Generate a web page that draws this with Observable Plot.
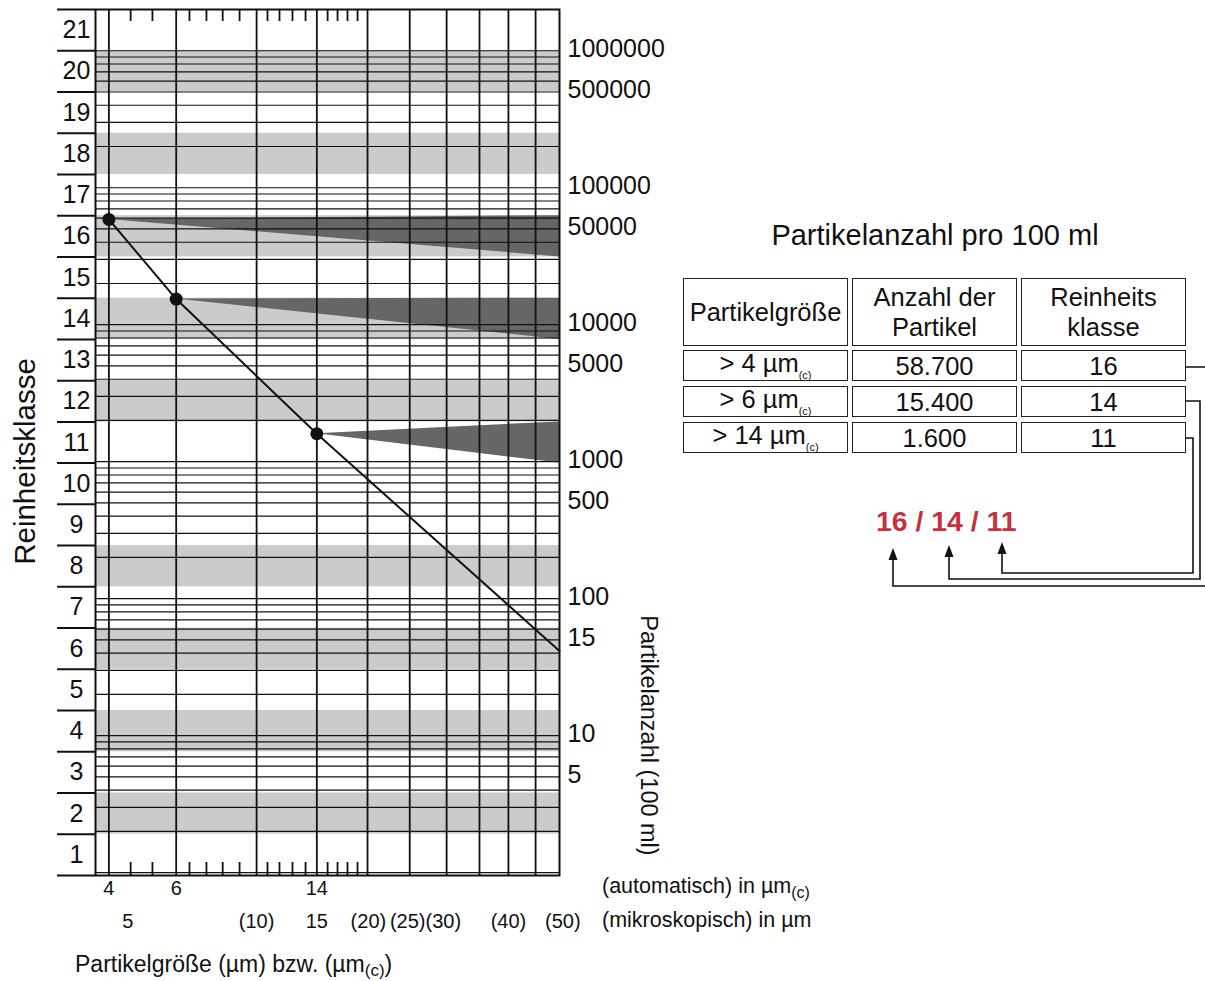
<!DOCTYPE html>
<html><head><meta charset="utf-8">
<script src="https://cdn.jsdelivr.net/npm/d3@7"></script>
<script src="https://cdn.jsdelivr.net/npm/@observablehq/plot@0.6"></script>
<style>
body{margin:0;background:#fff;}
#wrap{position:relative;width:1205px;height:981px;overflow:hidden;font-family:"Liberation Sans",Arial,sans-serif;color:#111;}
.lbl{position:absolute;white-space:nowrap;display:flex;align-items:center;line-height:1;}
.cell{position:absolute;box-sizing:border-box;border:1.6px solid #222;display:flex;flex-direction:column;align-items:center;justify-content:center;font-size:25.5px;line-height:30px;white-space:nowrap;text-align:center;}
.sub{position:relative;}
</style></head><body><div id="wrap"></div>
<script>
// ---------- data ----------
const classNumbers = [1,2,3,4,5,6,7,8,9,10,11,12,13,14,15,16,17,18,19,20,21];
// class boundaries (particles per 100 ml), lower bound of class 1 ... upper bound of class 21
const classBounds = [0.95367431640625, 1.9073486328125, 3.814697265625, 7.62939453125, 15.2587890625,
  30.517578125, 61.03515625, 122.0703125, 244.140625, 488.28125, 976.5625, 1953.125, 3906.25,
  7812.5, 15625, 31250, 62500, 125000, 250000, 500000, 1000000, 2000000];
const grayClasses = [2,4,6,8,12,14,16,18,20];
const countTicks = [1000000, 500000, 100000, 50000, 10000, 5000, 1000, 500, 100, 50, 10, 5];
const countTickLabels = ["1000000","500000","100000","50000","10000","5000","1000","500","100","15","10","5"];
const gridDecades = [1, 10, 100, 1000, 10000, 100000, 1000000];
const gridDigits = [1,2,3,4,5,6,7,8,9];

// x: particle size in µm(c), log axis
const xMin = 3.69, xMax = 60.4;
const vLines = [4, 6, 9.74, 14, 19.0, 24.5, 30.6, 37.3, 44.4, 52.3];
const minorTicks = [4.56, 5.2, 6.5, 7.2, 7.94, 8.79, 10.4, 11.18, 12.09, 13.08, 14.94, 15.86, 16.84, 17.89];
const autoTicks = [4, 6, 14];
const microLabels = ["5", "(10)", "15", "(20)", "(25)", "(30)", "(40)", "(50)"];
const microAt = [4.48, 9.74, 14, 19.1, 24.2, 30.0, 44.4, 61.6];

// measurement
const sizes = [4, 6, 14];
const sizeLabels = ["> 4 µm", "> 6 µm", "> 14 µm"];
const counts = [58700, 15400, 1600];
const classes = [16, 14, 11];
const lineEndCount = 41.5;

// ---------- derived tables ----------
const gridCounts = gridDecades.flatMap(d => gridDigits.map(k => k * d)).filter(v => v <= classBounds[21]);
const measure = sizes.map((s, i) => ({size: s, count: counts[i], cls: classes[i]}));
const curve = [...measure, {size: xMax, count: lineEndCount}];
const wedges = measure.flatMap((m, i) => [
  {id: i, x: m.size, y1: m.count, y2: m.count},
  {id: i, x: xMax, y1: classBounds[m.cls - 1], y2: classBounds[m.cls]}
]);
const fmt = d3.formatLocale({decimal: ",", thousands: ".", grouping: [3], currency: ["", "€"]}).format(",d");

const FONT = "'Liberation Sans', Arial, sans-serif";
const INK = "#111";

const chart = Plot.plot({
  width: 1205, height: 981,
  marginLeft: 95, marginRight: 646, marginTop: 9, marginBottom: 106,
  style: {fontFamily: FONT, color: INK, background: "transparent", overflow: "visible"},
  x: {type: "log", domain: [xMin, xMax], axis: null},
  y: {type: "log", domain: [classBounds[0], classBounds[21]], axis: null},
  marks: [
    Plot.rect(grayClasses, {x1: () => xMin, x2: () => xMax, y1: c => classBounds[c - 1], y2: c => classBounds[c], fill: "#cbcbcb"}),
    Plot.area(wedges, {x1: "x", y1: "y1", y2: "y2", z: "id", fill: "#666666"}),
    Plot.ruleY(gridCounts, {stroke: INK, strokeWidth: 1.2}),
    Plot.ruleX(vLines, {stroke: INK, strokeWidth: 1.8}),
    Plot.ruleX(minorTicks, {stroke: INK, strokeWidth: 1.8, insetBottom: 854}),
    Plot.ruleX(minorTicks, {stroke: INK, strokeWidth: 1.8, insetTop: 853}),
    Plot.ruleY(classBounds, {stroke: INK, strokeWidth: 2, insetLeft: -38, insetRight: 464}),
    Plot.frame({stroke: INK, strokeWidth: 2}),
    Plot.line(curve, {x: "size", y: "count", stroke: INK, strokeWidth: 2}),
    Plot.dot(measure, {x: "size", y: "count", r: 6.5, fill: INK}),
    Plot.text(classNumbers, {y: c => Math.sqrt(classBounds[c - 1] * classBounds[c]), text: c => String(c), frameAnchor: "left", textAnchor: "middle", lineAnchor: "middle", dx: -19, fontSize: 25, fill: INK}),
    Plot.text(countTicks, {y: d => d, text: (d, i) => countTickLabels[i], frameAnchor: "right", textAnchor: "start", lineAnchor: "middle", dx: 8, dy: -2, fontSize: 25, fill: INK}),
    Plot.text(autoTicks, {x: d => d, text: d => String(d), frameAnchor: "bottom", textAnchor: "middle", lineAnchor: "middle", dy: 13, fontSize: 20, fill: INK}),
    Plot.text(microLabels, {x: (d, i) => microAt[i], text: d => d, frameAnchor: "bottom", textAnchor: "middle", lineAnchor: "middle", dy: 46, fontSize: 20, fill: INK}),
    Plot.text(["Reinheitsklasse"], {frameAnchor: "left", textAnchor: "middle", lineAnchor: "middle", dx: -70, dy: 19, rotate: -90, fontSize: 29.5, fill: INK}),
    Plot.text(["Partikelanzahl (100 ml)"], {frameAnchor: "right", textAnchor: "middle", lineAnchor: "middle", dx: 89, dy: 293, rotate: 90, fontSize: 23.5, fill: INK})
  ]
});
chart.style.position = "absolute";
chart.style.left = "0px";
chart.style.top = "0px";
const wrap = document.getElementById("wrap");
wrap.appendChild(chart);

// ---------- html labels ----------
function label(html, left, cy, size, extra = "") {
  const d = document.createElement("div");
  d.className = "lbl";
  d.style.cssText = `left:${left}px;top:${cy - size}px;height:${2 * size}px;font-size:${size}px;${extra}`;
  d.innerHTML = html;
  wrap.appendChild(d);
  return d;
}
function centered(html, cx, cy, size, extra = "") {
  return label(html, cx - 250, cy, size, `width:500px;justify-content:center;${extra}`);
}
const subC = (sz, off) => `<span class="sub" style="font-size:${sz}px;top:${off}px">(c)</span>`;

label(`(automatisch) in µm${subC(16, 6)}`, 602, 887, 21.5);
label(`(mikroskopisch) in µm`, 602, 921, 21.5);
label(`Partikelgröße (µm) bzw. (µm${subC(17, 6)})`, 75, 964, 23);

centered("Partikelanzahl pro 100 ml", 935, 235, 29);

// table
const colX = [683, 852, 1021], colW = 165;
const headY = 278, headH = 68;
const rowY = [350, 386, 422], rowH = 31;
const headers = ["Partikelgröße", "Anzahl der<br>Partikel", "Reinheits<br>klasse"];
function cell(html, x, y, w, h) {
  const d = document.createElement("div");
  d.className = "cell";
  d.style.cssText = `left:${x}px;top:${y}px;width:${w}px;height:${h}px;`;
  d.innerHTML = html;
  wrap.appendChild(d);
}
headers.forEach((h, j) => cell(`<div>${h}</div>`, colX[j], headY, colW, headH));
measure.forEach((m, i) => {
  cell(`<div>${sizeLabels[i]}${subC(11, 7)}</div>`, colX[0], rowY[i], colW, rowH);
  cell(`<div>${fmt(m.count)}</div>`, colX[1], rowY[i], colW, rowH);
  cell(`<div>${m.cls}</div>`, colX[2], rowY[i], colW, rowH);
});

// result code
label(classes.join(" / "), 876, 521, 28.4, "font-weight:bold;color:#c5323d;");

// connectors
const svg = d3.select(wrap).append("svg")
  .attr("width", 1205).attr("height", 981)
  .style("position", "absolute").style("left", "0px").style("top", "0px");
const conn = [
  {y: 367, vx: 1215, hy: 586, ax: 893, tip: 548},
  {y: 401, vx: 1200, hy: 579, ax: 949, tip: 545},
  {y: 438, vx: 1193, hy: 573, ax: 1002, tip: 542}
];
conn.forEach(c => {
  svg.append("path").attr("d", `M1185,${c.y}H${c.vx}V${c.hy}H${c.ax}V${c.tip + 10}`)
    .attr("fill", "none").attr("stroke", INK).attr("stroke-width", 1.6);
  svg.append("path").attr("d", `M${c.ax},${c.tip}L${c.ax - 4.5},${c.tip + 12}L${c.ax + 4.5},${c.tip + 12}Z`).attr("fill", INK);
});
</script>
</body></html>
